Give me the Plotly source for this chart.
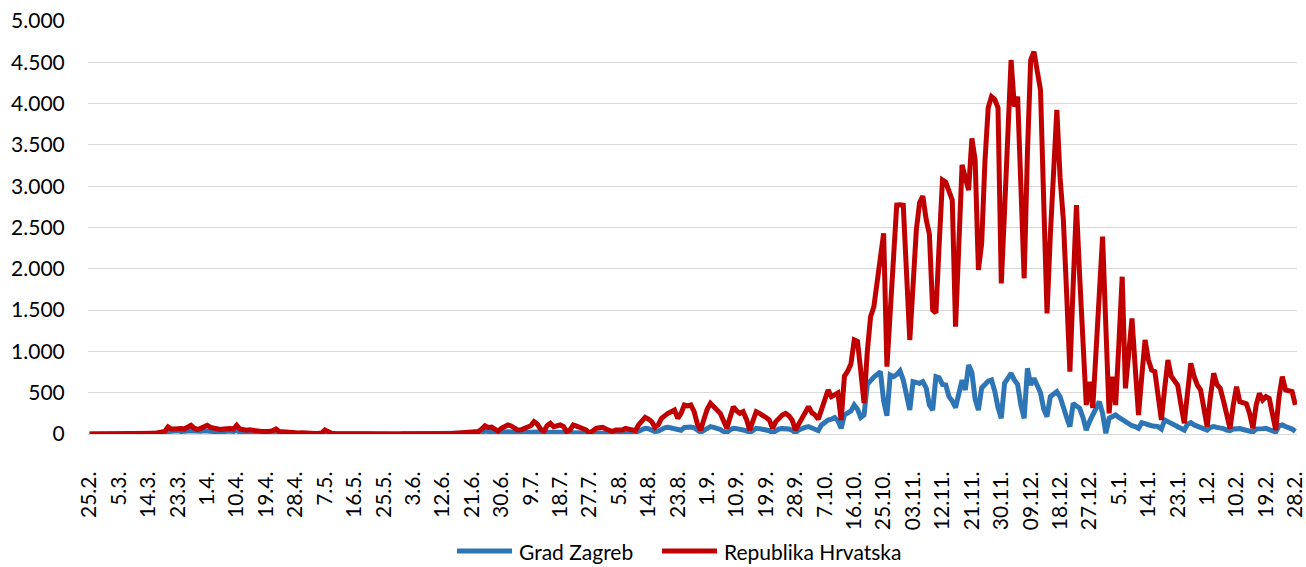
import plotly.graph_objects as go

# Tick labels (every 9th day, 25.2.2020 - 28.2.2021)
tick_labels = ["25.2.", "5.3.", "14.3.", "23.3.", "1.4.", "10.4.", "19.4.", "28.4.", "7.5.", "16.5.",
               "25.5.", "3.6.", "12.6.", "21.6.", "30.6.", "9.7.", "18.7.", "27.7.", "5.8.", "14.8.",
               "23.8.", "1.9.", "10.9.", "19.9.", "28.9.", "7.10.", "16.10.", "25.10.", "03.11.", "12.11.",
               "21.11.", "30.11.", "09.12.", "18.12.", "27.12.", "5.1.", "14.1.", "23.1.", "1.2.", "10.2.",
               "19.2.", "28.2."]
tick_step = 9

# Daily new cases - Republika Hrvatska
hrvatska = [
    1, 1, 1, 0, 0, 0, 0, 0, 1, 1,
    1, 2, 0, 2, 2, 0, 3, 7, 5, 11,
    8, 16, 24, 30, 85, 60, 60, 71, 67, 60,
    87, 105, 70, 56, 68, 85, 105, 80, 70, 60,
    55, 60, 70, 65, 60, 105, 60, 50, 45, 50,
    40, 45, 35, 30, 25, 30, 40, 60, 30, 25,
    30, 20, 15, 11, 12, 15, 10, 8, 9, 7,
    8, 10, 48, 20, 8, 5, 4, 3, 2, 1,
    3, 1, 2, 0, 1, 1, 0, 1, 2, 0,
    1, 0, 1, 0, 1, 0, 2, 1, 0, 1,
    2, 1, 0, 1, 2, 3, 1, 2, 1, 3,
    2, 5, 4, 6, 8, 10, 12, 15, 25, 30,
    60, 100, 80, 85, 60, 35, 70, 95, 110, 97,
    75, 48, 52, 65, 80, 100, 149, 120, 60, 30,
    100, 129, 89, 100, 109, 90, 30, 50, 109, 95,
    80, 70, 48, 8, 40, 69, 75, 81, 60, 45,
    30, 48, 45, 48, 69, 60, 55, 40, 109, 150,
    202, 180, 150, 81, 110, 190, 230, 250, 270, 290,
    190, 250, 351, 340, 351, 270, 120, 48, 180, 300,
    371, 330, 290, 250, 160, 69, 200, 331, 280, 250,
    270, 180, 48, 180, 270, 250, 230, 200, 170, 69,
    150, 200, 230, 250, 220, 170, 48, 120, 190, 260,
    331, 260, 230, 180, 300, 400, 533, 452, 480, 496,
    170, 700, 760, 850, 1138, 1120, 760, 375, 1000, 1420,
    1541, 1850, 2107, 2430, 815, 1480, 2150, 2772, 2775, 2770,
    1950, 1138, 1800, 2470, 2800, 2880, 2600, 2420, 1500, 1465,
    2300, 3075, 3050, 2950, 2830, 1300, 2300, 3257, 3100, 2954,
    3580, 3317, 1985, 2308, 3300, 3950, 4084, 4050, 3950, 1824,
    2700, 3550, 4528, 3963, 4084, 3000, 1885, 3400, 4528, 4629,
    4400, 4165, 2800, 1461, 2400, 3300, 3923, 3100, 2591, 1700,
    755, 1800, 2772, 1900, 1000, 351, 633, 315, 1000, 1700,
    2389, 1300, 250, 694, 351, 1100, 1904, 553, 1000, 1400,
    800, 230, 700, 1138, 900, 775, 755, 450, 170, 550,
    896, 700, 633, 590, 350, 129, 500, 855, 700, 593,
    533, 300, 89, 450, 735, 600, 553, 400, 250, 69,
    350, 573, 391, 380, 367, 250, 69, 350, 492, 411,
    452, 432, 250, 48, 450, 694, 533, 530, 513, 351,
]

# Daily new cases - Grad Zagreb
zagreb = [
    1, 0, 0, 1, 0, 0, 0, 1, 0, 0,
    0, 1, 0, 1, 1, 0, 2, 3, 2, 5,
    3, 8, 10, 12, 30, 35, 25, 38, 30, 25,
    35, 40, 35, 30, 32, 38, 40, 35, 30, 25,
    30, 28, 25, 35, 30, 40, 25, 20, 18, 22,
    15, 18, 12, 10, 8, 10, 12, 15, 8, 6,
    8, 5, 4, 3, 4, 5, 3, 2, 3, 2,
    2, 3, 10, 5, 2, 1, 1, 0, 1, 0,
    1, 0, 0, 1, 0, 0, 1, 0, 0, 1,
    0, 0, 1, 0, 0, 1, 0, 0, 1, 0,
    1, 0, 0, 1, 0, 1, 1, 0, 1, 2,
    1, 2, 2, 3, 3, 4, 4, 5, 10, 12,
    20, 35, 30, 25, 15, 12, 25, 30, 28, 25,
    20, 10, 15, 18, 20, 25, 30, 25, 15, 8,
    20, 25, 18, 20, 22, 15, 5, 10, 15, 12,
    10, 8, 6, 3, 8, 12, 15, 14, 10, 8,
    5, 10, 12, 15, 18, 20, 25, 15, 35, 55,
    69, 65, 50, 30, 35, 60, 75, 81, 75, 70,
    50, 45, 80, 89, 85, 75, 50, 20, 45, 75,
    89, 80, 70, 55, 30, 20, 50, 70, 65, 60,
    55, 40, 15, 45, 69, 65, 60, 55, 40, 15,
    40, 60, 65, 69, 60, 45, 15, 50, 69, 80,
    90, 75, 70, 40, 110, 140, 170, 180, 200, 160,
    69, 230, 250, 280, 351, 300, 200, 230, 600, 654,
    690, 720, 755, 400, 220, 714, 694, 720, 765, 654,
    500, 290, 634, 620, 613, 634, 560, 350, 290, 694,
    680, 600, 593, 452, 400, 320, 520, 654, 533, 835,
    745, 420, 290, 557, 600, 640, 654, 520, 320, 190,
    613, 680, 734, 654, 600, 350, 190, 795, 593, 674,
    600, 500, 300, 210, 452, 480, 513, 450, 300, 200,
    89, 371, 340, 311, 200, 48, 150, 230, 300, 391,
    250, 8, 190, 210, 230, 200, 175, 140, 109, 100,
    90, 69, 137, 120, 110, 100, 95, 89, 60, 170,
    150, 130, 109, 90, 70, 48, 120, 137, 110, 95,
    89, 70, 48, 80, 89, 80, 75, 65, 48, 40,
    60, 69, 65, 55, 45, 30, 25, 60, 69, 65,
    69, 55, 30, 25, 100, 109, 90, 81, 60, 30,
]

series_names = ["Grad Zagreb", "Republika Hrvatska"]
series_colors = ["#2E75B6", "#C00000"]

y_ticks = [0, 500, 1000, 1500, 2000, 2500, 3000, 3500, 4000, 4500, 5000]
y_tick_text = ["0", "500", "1.000", "1.500", "2.000", "2.500", "3.000", "3.500", "4.000", "4.500", "5.000"]

days = list(range(len(hrvatska)))
tick_pos = list(range(0, len(hrvatska), tick_step))

FONT = "Lato"
W, H = 1306, 567
ML, MR, MT, MB = 88, 9, 21, 133
PW, PH = W - ML - MR, H - MT - MB


def px_to_paper_x(px):
    return (px - ML) / PW


def px_to_paper_y(py):
    return (H - MB - py) / PH


fig = go.Figure()
for name, vals, col in zip(series_names, [zagreb, hrvatska], series_colors):
    fig.add_trace(go.Scatter(x=days, y=vals, mode="lines", name=name,
                             line=dict(color=col, width=5), showlegend=False))

# Legend drawn below the chart (line sample + label), centred like the original
legend_y = 551
legend_items = [(457, 512, 517), (662, 717, 722)]  # sample start, sample end, text start (px)
shapes = []
annotations = []
for (x0, x1, xt), name, col in zip(legend_items, series_names, series_colors):
    shapes.append(dict(type="line", xref="paper", yref="paper",
                       x0=px_to_paper_x(x0), x1=px_to_paper_x(x1),
                       y0=px_to_paper_y(legend_y), y1=px_to_paper_y(legend_y),
                       line=dict(color=col, width=5)))
    annotations.append(dict(xref="paper", yref="paper", x=px_to_paper_x(xt), y=px_to_paper_y(legend_y),
                            xanchor="left", yanchor="middle", text=name, showarrow=False,
                            font=dict(family=FONT, size=21, color="#000000")))

fig.update_layout(
    width=W, height=H,
    margin=dict(l=ML, r=MR, t=MT, b=MB, autoexpand=False),
    paper_bgcolor="white", plot_bgcolor="white",
    font=dict(family=FONT, size=21, color="#000000"),
    showlegend=False,
    shapes=shapes,
    annotations=annotations,
    xaxis=dict(range=[-0.5, len(hrvatska) - 0.5], tickmode="array", tickvals=tick_pos,
               ticktext=tick_labels, tickangle=-90, showgrid=False, zeroline=False,
               showline=True, linecolor="#d9d9d9", linewidth=1.3,
               ticks="outside", ticklen=28, tickcolor="rgba(0,0,0,0)", automargin=False,
               ticklabeloverflow="allow",
               tickfont=dict(family=FONT, size=21, color="#000000")),
    yaxis=dict(range=[0, 5000], tickmode="array", tickvals=y_ticks, ticktext=y_tick_text,
               showgrid=True, gridcolor="#d9d9d9", gridwidth=1.3, zeroline=False, automargin=False,
               ticks="outside", ticklen=18, tickcolor="rgba(0,0,0,0)",
               tickfont=dict(family=FONT, size=21, color="#000000")),
)

fig.write_html("out.html", post_script="document.body.style.margin='0';",
               config={"displayModeBar": False})
